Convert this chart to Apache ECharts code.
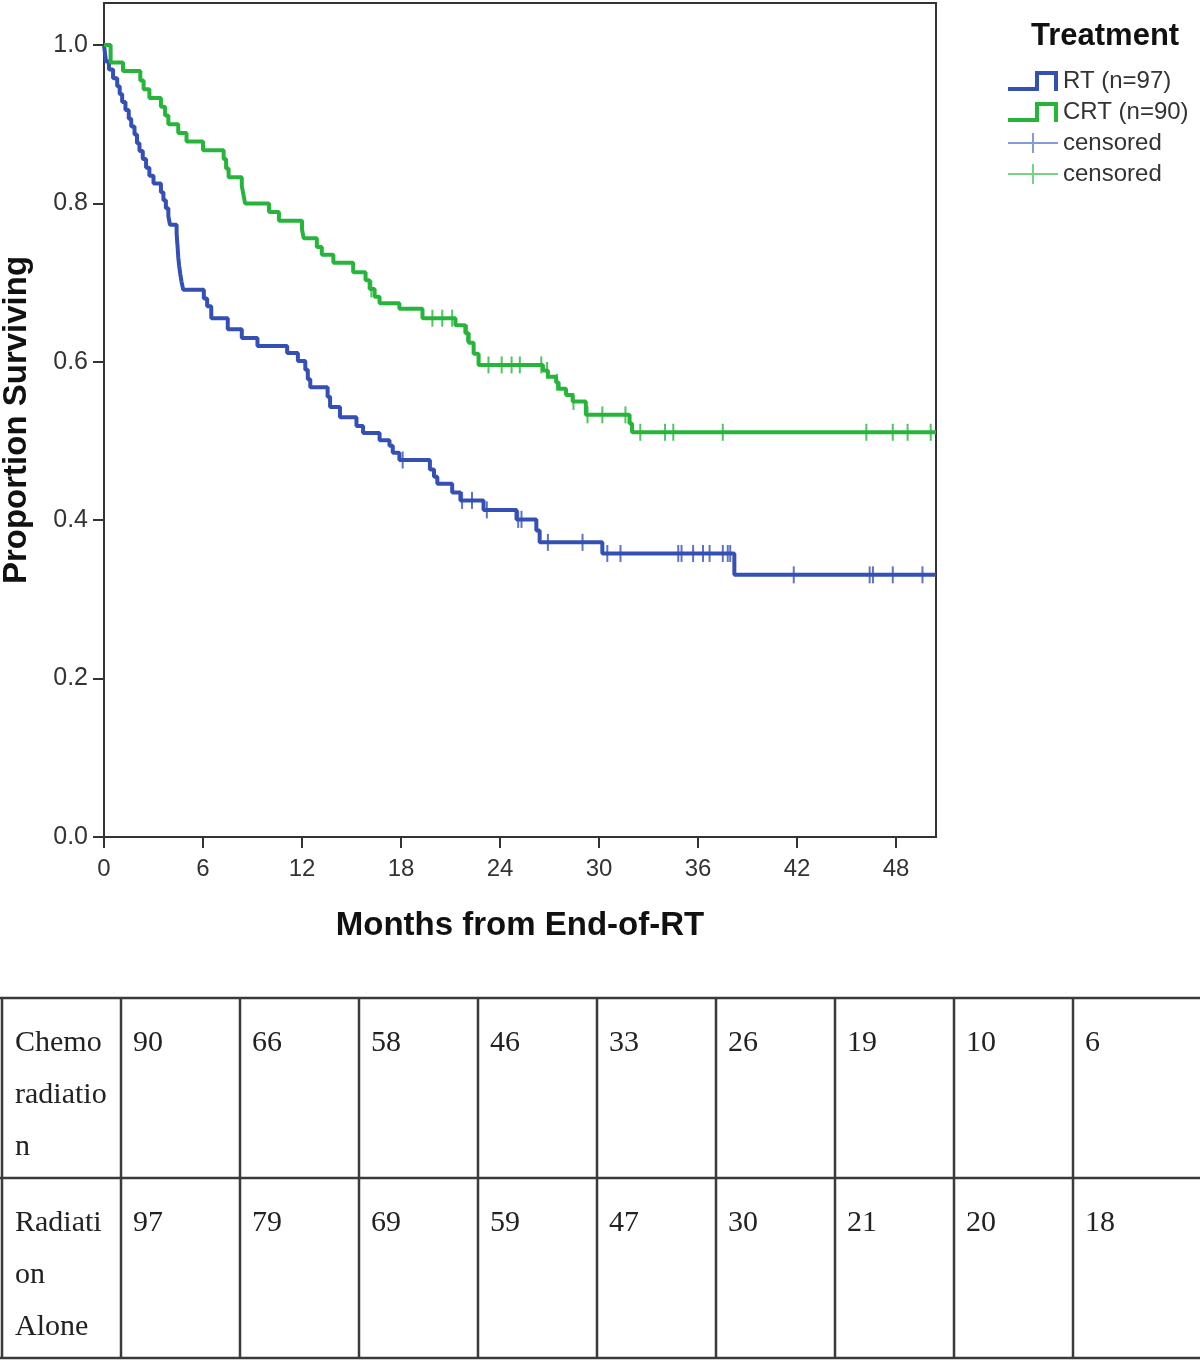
<!DOCTYPE html>
<html>
<head>
<meta charset="utf-8">
<script src="https://cdn.jsdelivr.net/npm/echarts@6/dist/echarts.min.js"></script>
<style>
html,body{margin:0;padding:0;background:#fff;}
#chart{width:1200px;height:1362px;}
</style>
</head>
<body>
<div id="chart"></div>
<script>
// ---- Data ----
const xTicks = [0, 6, 12, 18, 24, 30, 36, 42, 48];
const yTicks = [0, 0.2, 0.4, 0.6, 0.8, 1.0];

// RT (n=97) Kaplan-Meier steps [months, proportion surviving]
const rtSteps = [
  [0,1.0],[0.12,0.979],[0.3,0.969],[0.55,0.958],[0.8,0.948],[0.95,0.938],[1.1,0.928],
  [1.3,0.918],[1.5,0.907],[1.65,0.897],[1.85,0.887],[2.0,0.876],[2.15,0.866],[2.35,0.856],
  [2.55,0.845],[2.75,0.835],[3.0,0.825],[3.45,0.814],[3.6,0.804],[3.75,0.794],[3.9,0.784],
  [4.0,0.773],[4.4,0.763],[4.43,0.753],[4.47,0.742],[4.5,0.732],[4.55,0.722],[4.62,0.711],
  [4.7,0.701],[4.8,0.691],[6.05,0.680],[6.25,0.670],[6.5,0.655],[7.5,0.641],[8.35,0.630],
  [9.3,0.620],[11.1,0.611],[11.75,0.601],[12.2,0.590],[12.35,0.578],[12.5,0.568],[13.55,0.556],
  [13.7,0.543],[14.3,0.530],[15.3,0.519],[15.7,0.510],[16.7,0.501],[17.3,0.494],[17.5,0.485],
  [17.9,0.476],[19.75,0.464],[20.0,0.455],[20.2,0.446],[21.1,0.435],[21.6,0.425],[23.0,0.413],
  [25.0,0.401],[26.2,0.387],[26.4,0.372],[30.2,0.358],[38.2,0.331],[50.42,0.331]
];
// CRT (n=90)
const crtSteps = [
  [0,1.0],[0.4,0.978],[1.15,0.967],[2.2,0.955],[2.4,0.944],[2.75,0.933],[3.45,0.922],
  [3.7,0.911],[3.9,0.9],[4.5,0.889],[5.0,0.878],[6.0,0.867],[7.25,0.856],[7.4,0.844],
  [7.55,0.833],[8.35,0.822],[8.45,0.811],[8.55,0.8],[10.0,0.789],[10.6,0.778],[12.0,0.767],
  [12.1,0.756],[12.9,0.745],[13.2,0.735],[13.9,0.725],[15.1,0.713],[15.85,0.703],[16.1,0.692],
  [16.4,0.682],[16.7,0.674],[17.9,0.667],[19.3,0.655],[21.3,0.646],[21.9,0.636],[22.1,0.624],
  [22.4,0.610],[22.7,0.596],[26.6,0.589],[26.9,0.581],[27.4,0.574],[27.55,0.566],[28.0,0.558],
  [28.4,0.550],[29.2,0.533],[31.85,0.522],[32.0,0.511],[50.42,0.511]
];
// censoring times (months)
const rtCensor = [18.1,21.7,22.3,23.2,25.1,25.3,26.9,29.0,30.5,31.3,34.8,35.0,35.7,36.3,36.7,37.5,37.8,37.95,41.8,46.4,46.6,47.8,49.6];
const crtCensor = [16.2,19.9,20.5,21.1,22.0,23.3,24.1,24.7,25.2,26.5,26.85,27.45,28.45,29.3,30.2,31.6,32.5,34.0,34.5,37.5,46.2,47.8,48.7,50.1];

// numbers at risk table
const tableRowLabels = [['Chemo','radiatio','n'], ['Radiati','on','Alone']];
const crtAtRisk = [90, 66, 58, 46, 33, 26, 19, 10, 6];
const rtAtRisk = [97, 79, 69, 59, 47, 30, 21, 20, 18];

// ---- Helpers ----
function survAt(steps, t) {
  let v = steps[0][1];
  for (const s of steps) { if (s[0] <= t) v = s[1]; else break; }
  return v;
}
const BLUE = '#3450b4', GREEN = '#27b43a';
const BLUE_L = '#6a7fd0', GREEN_L = '#55c865';
const stepIcon = 'path://M0 16H27V0H50V20H46V4H31V20H0Z';
const crossIcon = 'path://M0 9H50V11H0Z M24 0H26V20H24Z';
const tickSym = 'path://M0 0H1V10H0Z';
const SANS = 'Liberation Sans, Arial, sans-serif';

const chart = echarts.init(document.getElementById('chart'), null, {renderer: 'canvas'});

// table graphics
const graphics = [];
const tTop = 998, tMid = 1178, tBot = 1358;
const firstW = 121, colW = 119;
const lineColor = '#3a3a3a';
[tTop, tMid, tBot].forEach(y => graphics.push({type:'line', shape:{x1:0,y1:y,x2:1200,y2:y}, style:{stroke:lineColor, lineWidth:2.5}}));
graphics.push({type:'line', shape:{x1:2,y1:tTop,x2:2,y2:tBot}, style:{stroke:lineColor, lineWidth:2.5}});
for (let k = 0; k < crtAtRisk.length; k++) {
  const x = firstW + colW * k;
  graphics.push({type:'line', shape:{x1:x,y1:tTop,x2:x,y2:tBot}, style:{stroke:lineColor, lineWidth:2.5}});
}
const tFont = '30px "Liberation Serif", "DejaVu Serif", serif';
[tTop, tMid].forEach((top, r) => {
  tableRowLabels[r].forEach((txt, i) => {
    graphics.push({type:'text', x:15, y: top + 45 + i*52, style:{text:txt, font:tFont, fill:'#222', verticalAlign:'middle'}});
  });
  const vals = r === 0 ? crtAtRisk : rtAtRisk;
  vals.forEach((v, k) => {
    graphics.push({type:'text', x: firstW + 12 + colW*k, y: top + 45, style:{text:String(v), font:tFont, fill:'#222', verticalAlign:'middle'}});
  });
});

const option = {
  backgroundColor: '#fff',
  animation: false,
  title: {
    text: 'Treatment', left: 1026, top: 16,
    textStyle: {fontFamily: SANS, fontSize: 31, fontWeight: 'bold', color: '#111'}
  },
  legend: {
    orient: 'vertical', left: 1003, top: 64,
    itemWidth: 50, itemHeight: 20, itemGap: 7,
    formatter: n => n.trim(),
    textStyle: {fontFamily: SANS, fontSize: 24, color: '#333'},
    data: [
      {name:'RT (n=97)', icon: stepIcon, itemStyle:{color: BLUE}},
      {name:'CRT (n=90)', icon: stepIcon, itemStyle:{color: GREEN}},
      {name:'censored', icon: crossIcon, itemStyle:{color: BLUE_L}},
      {name:'censored ', icon: crossIcon, itemStyle:{color: GREEN_L}}
    ]
  },
  grid: {left: 104, top: 3, width: 832, height: 834, show: true, borderColor: '#333', borderWidth: 2,
         backgroundColor:'#fff', containLabel: false, outerBoundsMode: 'none'},
  xAxis: {
    type: 'value', min: 0, max: 50.42,
    name: 'Months from End-of-RT', nameLocation: 'middle', nameGap: 72,
    nameTextStyle: {fontFamily: SANS, fontSize: 33, fontWeight: 'bold', color: '#111'},
    axisLine: {show: true, lineStyle: {color: '#333', width: 2}},
    axisTick: {show: true, length: 11, lineStyle: {color: '#333', width: 2}, customValues: xTicks},
    axisLabel: {customValues: xTicks, margin: 20, fontFamily: SANS, fontSize: 24, color: '#333'},
    splitLine: {show: false}
  },
  yAxis: {
    type: 'value', min: 0, max: 1.053,
    name: 'Proportion Surviving', nameLocation: 'middle', nameGap: 71, nameRotate: 90,
    nameTextStyle: {fontFamily: SANS, fontSize: 33, fontWeight: 'bold', color: '#111'},
    axisLine: {show: true, lineStyle: {color: '#333', width: 2}},
    axisTick: {show: true, length: 11, lineStyle: {color: '#333', width: 2}, customValues: yTicks},
    axisLabel: {customValues: yTicks, margin: 16, formatter: v => v.toFixed(1), fontFamily: SANS, fontSize: 25, color: '#333'},
    splitLine: {show: false}
  },
  series: [
    {name:'RT (n=97)', type:'line', step:'end', data: rtSteps, showSymbol:false, color: BLUE, lineStyle:{color: BLUE, width: 4}, z: 3},
    {name:'CRT (n=90)', type:'line', step:'end', data: crtSteps, showSymbol:false, color: GREEN, lineStyle:{color: GREEN, width: 4}, z: 3},
    {name:'censored', type:'scatter', data: rtCensor.map(t => [t, survAt(rtSteps, t)]), symbol: tickSym, symbolSize:[2,17], color: BLUE, itemStyle:{color: BLUE}, z: 4},
    {name:'censored ', type:'scatter', data: crtCensor.map(t => [t, survAt(crtSteps, t)]), symbol: tickSym, symbolSize:[2,17], color: GREEN, itemStyle:{color: GREEN}, z: 4}
  ],
  graphic: graphics
};
chart.setOption(option);
</script>
</body>
</html>
